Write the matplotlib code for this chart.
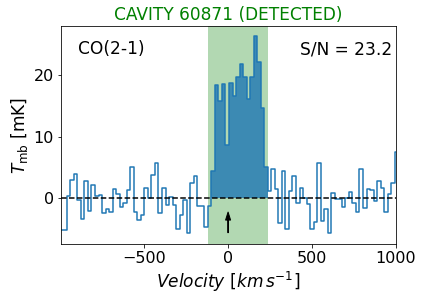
import matplotlib

matplotlib.use("Agg")
import matplotlib.pyplot as plt
import numpy as np

# spectrum: channel grid (regular, ~21 km/s) and brightness per channel [mK]
chan_start = -1002.4
chan_width = 21.0
t_mb = [
    -5.1, -5.1, 0.3, 2.9, 3.9, -0.3, -3.3, 2.8, -2.0, 2.2,
    0.4, 0.5, -2.4, -1.8, -2.3, 1.5, 0.7, -1.4, -0.7, 1.3,
    5.1, -2.3, -3.5, -2.8, 1.6, 0.0, 3.8, 5.7, -2.4, 1.6,
    -1.1, 0.2, -1.1, -5.0, -2.8, -0.3, -5.7, 2.5, 3.6, -1.3,
    -1.3, -4.7, -1.3,
    4.45, 18.4, 15.9, 18.6, 8.7, 18.8, 16.7, 19.7, 21.9, 19.8,
    16.1, 19.7, 26.4, 22.2, 14.7, 5.1,
    1.1, 4.7, 1.5, -4.0, 4.5, -5.0, 1.1, 3.7, -0.7, 1.6,
    0.0, -0.9, -5.0, -3.9, 5.8, -3.7, -1.7, -5.7, 0.8, -0.2,
    -0.1, -1.5, 0.0, 1.0, -0.7, -2.2, 4.8, -1.6, 1.5, 1.3,
    -0.4, 2.8, 1.6, -2.2, 0.7, 2.5, 7.6,
]

line_window = (-120, 238)   # green band
fill_window = (-100, 240)   # channels integrated
arrow_velocity = 0.0
title = "CAVITY 60871 (DETECTED)"
line_name = "CO(2-1)"
snr = 23.2


def main() -> None:
    spec = np.array(t_mb)
    edges = chan_start + chan_width * np.arange(len(spec) + 1)
    vel = 0.5 * (edges[:-1] + edges[1:])

    dpi = 72
    fig = plt.figure(figsize=(424 / dpi, 304 / dpi), dpi=dpi)
    ax = fig.add_axes([61 / 424, 1 - 244 / 304, 335 / 424, 218 / 304])

    ax.axvspan(*line_window, color="green", alpha=0.3, lw=0)
    sel = (vel >= fill_window[0]) & (vel <= fill_window[1])
    idx = np.where(sel)[0]
    ax.stairs(spec[idx], edges[idx[0]:idx[-1] + 2], fill=True,
              color="tab:blue", alpha=0.8, lw=0)
    ax.step(vel, spec, where="mid", color="tab:blue", lw=1.5)
    ax.axhline(0, color="k", ls="--", lw=1.5)

    ax.annotate("", xy=(arrow_velocity, -2.25), xytext=(arrow_velocity, -5.6),
                arrowprops=dict(facecolor="k", edgecolor="k", width=0.6,
                                headwidth=5, headlength=8))

    ax.text(0.051, 0.87, line_name, transform=ax.transAxes, fontsize=17)
    ax.text(0.988, 0.867, f"S/N = {snr}", transform=ax.transAxes,
            fontsize=17, ha="right")

    ax.set_xlim(-995, 1000)
    ax.set_ylim(-7.45, 28.05)
    ax.set_xticks([-500, 0, 500, 1000])
    ax.set_yticks([0, 10, 20])
    ax.tick_params(labelsize=16)
    ax.set_xlabel(r"$Velocity\ [km\,s^{-1}]$", fontsize=17)
    ax.set_ylabel(r"$T_{\rm mb}$ [mK]", fontsize=17)
    ax.set_title(title, color="green", fontsize=17)

    fig.savefig("out.png", dpi=dpi)
    plt.close(fig)


if __name__ == "__main__":
    main()
